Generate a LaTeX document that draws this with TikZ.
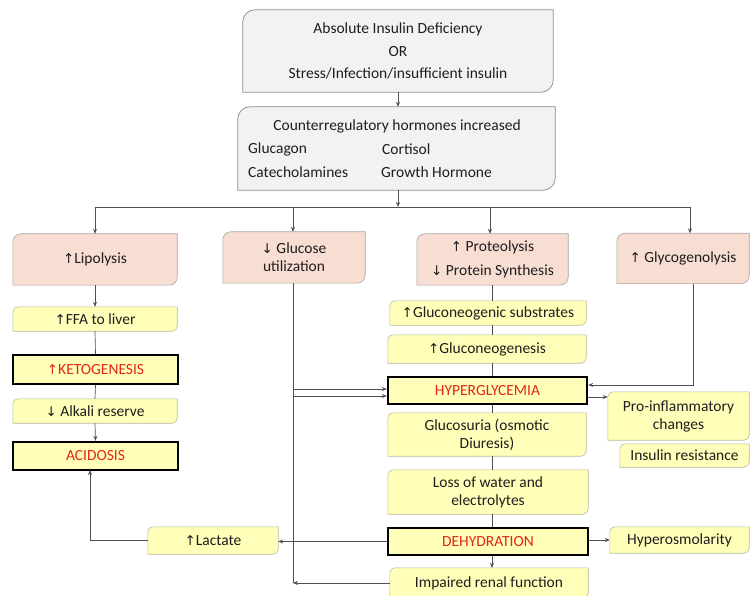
\documentclass[tikz,border=0pt]{standalone}
\usepackage{fontspec}
\setmainfont{Carlito}
\newfontfamily\arrfont{DejaVu Sans}
\newcommand\UA{{\arrfont\fontsize{13.5}{14}\selectfont ↑}}
\newcommand\DA{{\arrfont\fontsize{13.5}{14}\selectfont ↓}}
\usetikzlibrary{backgrounds,arrows.meta}
\definecolor{graybg}{HTML}{F2F2F2}
\definecolor{grayln}{HTML}{8C8C8C}
\definecolor{pinkbg}{HTML}{F8DDD2}
\definecolor{pinkln}{HTML}{ABA39F}
\definecolor{yelbg}{HTML}{FFFFB9}
\definecolor{yelln}{HTML}{B9B99E}
\definecolor{redtx}{HTML}{E3261C}
\definecolor{lnc}{HTML}{505050}
\definecolor{txc}{HTML}{1E1E1E}
\newcommand\dbox[3]{%
  \path[#3] (#1.south west) -- ([yshift=-#2]#1.north west)
    arc[start angle=180,end angle=90,radius=#2] -- (#1.north east)
    -- ([yshift=#2]#1.south east)
    arc[start angle=0,end angle=-90,radius=#2] -- cycle;}
\tikzset{
  txt/.style={inner sep=0pt, align=center, text=txc, font=\fontsize{15.5}{18}\selectfont},
  bx/.style={txt},
  thk/.style={txt, draw=black, line width=2.3pt, fill=yelbg, text=redtx},
  graysh/.style={fill=graybg, draw=grayln, line width=0.7pt},
  pinksh/.style={fill=pinkbg, draw=pinkln, line width=0.6pt},
  yelsh/.style={fill=yelbg, draw=yelln, line width=0.6pt},
  con/.style={draw=lnc, line width=0.7pt},
  arr/.style={con, -{Stealth[length=5pt,width=4pt]}},
}
\begin{document}
\begin{tikzpicture}[x=1pt,y=-1pt]
\useasboundingbox (0,0) rectangle (750,596);
% top boxes
\node[bx, minimum width=310pt, minimum height=82pt, font=\fontsize{15.5}{22.5}\selectfont] (top) at (398,51)
  {Absolute Insulin Deficiency\\OR\\Stress/Infection/insufficient insulin};
\node[bx, minimum width=317pt, minimum height=83pt] (cr) at (396.5,148.5) {};
\node[txt] (crt) at (397,126) {Counterregulatory hormones increased};
\node[txt, anchor=west] (gluca) at (248,149) {Glucagon};
\node[txt, anchor=west] (cort) at (382,149) {Cortisol};
\node[txt, anchor=west] (cate) at (248,172) {Catecholamines};
\node[txt, anchor=west] (gh) at (381,172) {Growth Hormone};
% pink row
\node[bx, minimum width=164pt, minimum height=51pt] (lip) at (95,259.5) {\UA Lipolysis};
\node[bx, minimum width=142pt, minimum height=51pt] (glu) at (294,257.5) {\DA\ Glucose\\utilization};
\node[bx, minimum width=151pt, minimum height=51pt, font=\fontsize{15.5}{24}\selectfont] (pro) at (492.5,259.5) {\UA\ Proteolysis\\\DA\ Protein Synthesis};
\node[bx, minimum width=132pt, minimum height=50pt] (gly) at (683,258.5) {\UA\ Glycogenolysis};
% left column
\node[bx, minimum width=164pt, minimum height=24pt] (ffa) at (95,319) {\UA FFA to liver};
\node[thk, minimum width=165pt, minimum height=29pt] (keto) at (95.5,369.5) {\UA KETOGENESIS};
\node[bx, minimum width=164pt, minimum height=24pt] (alk) at (95,411) {\DA\ Alkali reserve};
\node[thk, minimum width=165pt, minimum height=28pt] (acid) at (95.5,456) {ACIDOSIS};
\node[bx, minimum width=130pt, minimum height=27pt] (lac) at (213,540.5) {\UA Lactate};
% centre column
\node[bx, minimum width=196pt, minimum height=24pt] (sub) at (488,313) {\UA Gluconeogenic substrates};
\node[bx, minimum width=198pt, minimum height=28pt] (gneo) at (487,349) {\UA Gluconeogenesis};
\node[thk, minimum width=199pt, minimum height=27pt] (hyp) at (487.5,390.5) {HYPERGLYCEMIA};
\node[bx, minimum width=198pt, minimum height=43pt] (gsu) at (487,434.5) {Glucosuria (osmotic\\Diuresis)};
\node[bx, minimum width=200pt, minimum height=44pt] (loss) at (488,492) {Loss of water and\\electrolytes};
\node[thk, minimum width=200pt, minimum height=27pt] (dehy) at (488,541.5) {DEHYDRATION};
\node[bx, minimum width=198pt, minimum height=30pt] (imp) at (489,583) {Impaired renal function};
% right column
\node[bx, minimum width=141pt, minimum height=48pt] (proinf) at (678.5,416) {Pro-inflammatory\\changes};
\node[bx, minimum width=129pt, minimum height=23pt] (insr) at (684.5,455.5) {Insulin resistance};
\node[bx, minimum width=139pt, minimum height=26pt] (hypo) at (679.5,540) {Hyperosmolarity};
% box outlines
\begin{scope}[on background layer]
\dbox{top}{12pt}{graysh}
\dbox{cr}{12pt}{graysh}
\foreach \n in {lip,glu,pro,gly}{\dbox{\n}{8pt}{pinksh}}
\foreach \n in {ffa,alk,lac,sub,gneo,gsu,loss,imp,proinf,insr,hypo}{\dbox{\n}{5pt}{yelsh}}
\end{scope}
% connectors
\coordinate (hm) at (398,207);
\coordinate (h1) at (95,207);
\coordinate (h2) at (293,207);
\coordinate (h3) at (490,207);
\coordinate (h4) at (690,207);
\draw[arr] (top.south -| hm) -- (cr.north -| hm);
\draw[arr] (cr.south -| hm) -- (hm);
\draw[con] (h1) -- (h4);
\draw[arr] (h1) -- (h1 |- lip.north);
\draw[arr] (h2) -- (h2 |- glu.north);
\draw[arr] (h3) -- (h3 |- pro.north);
\draw[arr] (h4) -- (h4 |- gly.north);
% left chain
\draw[arr] (lip.south) -- (ffa.north);
\draw[con] (ffa.south) -- (keto.north);
\draw[con] (keto.south) -- (alk.north);
\draw[arr] (alk.south) -- (acid.north);
\coordinate (acb) at (90,470);
\draw[arr] (lac.west) -| (acb);
\draw[arr] (dehy.west) -- (dehy.west -| lac.east);
% glucose utilization line
\coordinate (gv) at (293,583);
\coordinate (ga) at (293,389);
\coordinate (gb) at (293,396);
\draw[con] (glu.south -| gv) -- (gv);
\draw[arr] (ga) -- (ga -| hyp.west);
\draw[arr] (gb) -- (gb -| hyp.west);
\draw[arr] (imp.west |- gv) -- (gv);
% centre chain
\coordinate (cx) at (492,0);
\draw[con] (cx |- pro.south) -- (cx |- sub.north);
\draw[con] (cx |- sub.south) -- (cx |- gneo.north);
\draw[con] (cx |- gneo.south) -- (cx |- hyp.north);
\draw[con] (cx |- hyp.south) -- (cx |- gsu.north);
\draw[con] (cx |- gsu.south) -- (cx |- loss.north);
\draw[con] (cx |- loss.south) -- (cx |- dehy.north);
\draw[arr] (cx |- dehy.south) -- (cx |- imp.north);
% right side
\coordinate (gc) at (693,385);
\coordinate (pi) at (0,397);
\draw[arr] (gc |- gly.south) -- (gc) -- (gc -| hyp.east);
\draw[arr] (pi -| hyp.east) -- (pi -| proinf.west);
\draw[arr] (dehy.east |- hypo.west) -- (hypo.west);
\end{tikzpicture}
\end{document}
